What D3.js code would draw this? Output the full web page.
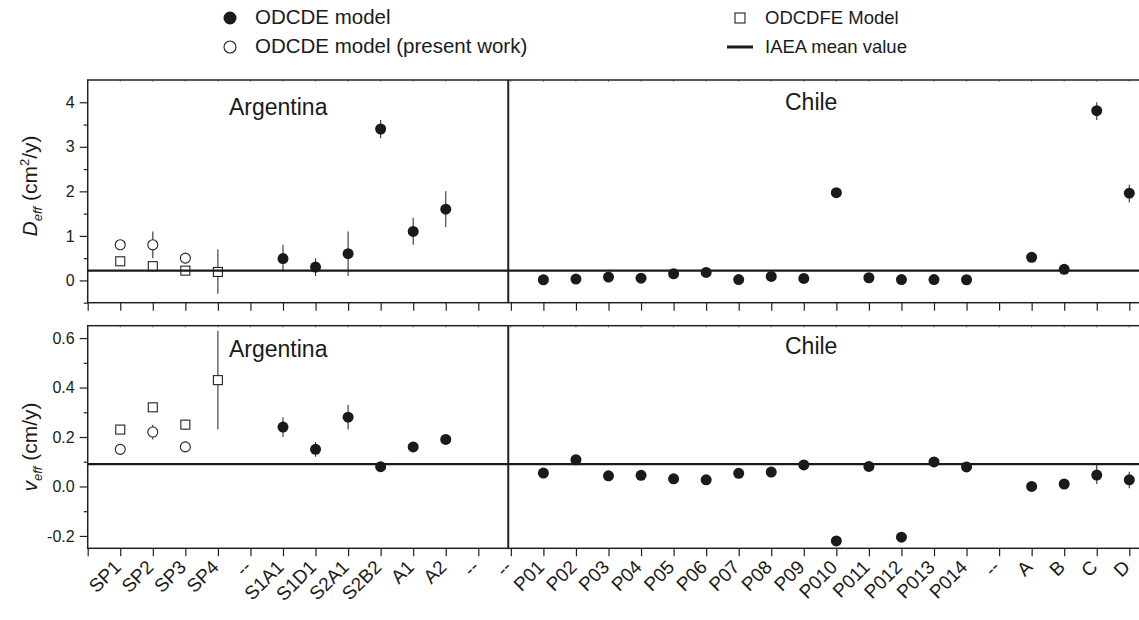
<!DOCTYPE html>
<html>
<head>
<meta charset="utf-8">
<script src="https://cdnjs.cloudflare.com/ajax/libs/d3/7.8.5/d3.min.js"></script>
<style>
body{margin:0;background:#fff;overflow:hidden;}
svg text{font-family:"Liberation Sans",Arial,sans-serif;fill:#1a1a1a;}
</style>
</head>
<body>
<div id="chart"></div>
<script>
// x categories (position 1..32)
var tickLabels = ["SP1","SP2","SP3","SP4","--","S1A1","S1D1","S2A1","S2B2","A1","A2","--","--",
    "P01","P02","P03","P04","P05","P06","P07","P08","P09","P010","P011","P012","P013","P014","--",
    "A","B","C","D"];

// IAEA mean value: top panel (Deff), bottom panel (veff)
var iaeaMean = [0.22, 0.09];

// [category, value, low, high]  (low/high = error bar ends, null if none)
var dOdcde = [
    ["S1A1",0.49,0.20,0.80],["S1D1",0.30,0.10,0.49],["S2A1",0.60,0.10,1.10],["S2B2",3.40,3.19,3.60],
    ["A1",1.10,0.80,1.41],["A2",1.60,1.20,2.00],
    ["P01",0.015,null,null],["P02",0.03,null,null],["P03",0.075,null,null],["P04",0.05,null,null],
    ["P05",0.15,null,null],["P06",0.18,null,null],["P07",0.02,null,null],["P08",0.09,null,null],
    ["P09",0.045,null,null],["P010",1.97,null,null],["P011",0.06,null,null],["P012",0.02,null,null],
    ["P013",0.02,null,null],["P014",0.015,null,null],
    ["A",0.52,null,null],["B",0.25,null,null],["C",3.81,3.60,4.00],["D",1.96,1.75,2.15]
];
var dPresent = [["SP1",0.80,null,null],["SP2",0.80,0.50,1.10],["SP3",0.50,null,null]];
var dOdcdfe = [["SP1",0.43,null,null],["SP2",0.32,null,null],["SP3",0.22,0.17,0.27],["SP4",0.19,-0.30,0.70]];

var vOdcde = [
    ["S1A1",0.24,0.20,0.28],["S1D1",0.15,0.12,0.18],["S2A1",0.28,0.23,0.33],["S2B2",0.08,null,null],
    ["A1",0.16,null,null],["A2",0.19,null,null],
    ["P01",0.054,null,null],["P02",0.108,null,null],["P03",0.043,null,null],["P04",0.045,null,null],
    ["P05",0.031,null,null],["P06",0.027,null,null],["P07",0.053,null,null],["P08",0.058,null,null],
    ["P09",0.087,null,null],["P010",-0.22,null,null],["P011",0.081,null,null],["P012",-0.205,null,null],
    ["P013",0.099,null,null],["P014",0.079,null,null],
    ["A",0.0,null,null],["B",0.01,null,null],["C",0.046,0.01,0.088],["D",0.027,-0.007,0.06]
];
var vPresent = [["SP1",0.15,0.135,0.165],["SP2",0.22,0.19,0.25],["SP3",0.16,null,null]];
var vOdcdfe = [["SP1",0.23,null,null],["SP2",0.32,null,null],["SP3",0.25,0.23,0.27],["SP4",0.43,0.23,0.63]];

var dTicks = [0,1,2,3,4], dMinor = [-0.5,0.5,1.5,2.5,3.5];
var vTicks = [-0.2,0,0.2,0.4,0.6], vMinor = [-0.1,0.1,0.3,0.5];

var legendItems = ["ODCDE model","ODCDE model (present work)","ODCDFE Model","IAEA mean value"];

var W = 1139, H = 620;
var svg = d3.select("#chart").append("svg").attr("width", W).attr("height", H);

var x = d3.scaleLinear().domain([0,33]).range([87.7, 87.7+33*32.55]);
var dividerPos = 12.92;

function pos(name){ return tickLabels.indexOf(name) + 1; }
function hyphen(f){ return function(v){ return f(v).replace("\u2212","-"); }; }

function drawPanel(y, ticks, minor, fmt, mean, filled, present, odcdfe, showLabels, regions){
    var g = svg.append("g");
    var y0 = y.range()[0], y1 = y.range()[1];

    // y axis major + minor
    g.append("g").attr("transform","translate("+x(0)+",0)")
        .call(d3.axisLeft(y).tickValues(ticks).tickSize(8).tickPadding(5).tickFormat(fmt))
        .call(function(a){ a.select(".domain").remove(); a.selectAll("line").attr("stroke","#222").attr("stroke-width",1.2);
            a.selectAll("text").attr("font-size",16).style("font-family","Liberation Sans, Arial, sans-serif").attr("fill","#1a1a1a"); });
    g.append("g").attr("transform","translate("+x(0)+",0)")
        .call(d3.axisLeft(y).tickValues(minor).tickSize(4).tickFormat(""))
        .call(function(a){ a.select(".domain").remove(); a.selectAll("line").attr("stroke","#222").attr("stroke-width",1.2); });

    // x axis
    var xa = g.append("g").attr("transform","translate(0,"+y0+")")
        .call(d3.axisBottom(x).tickValues(d3.range(0,34)).tickSize(8).tickFormat(""));
    xa.select(".domain").remove();
    xa.selectAll("line").attr("stroke","#222").attr("stroke-width",1.2);

    // faint ticks on top border
    g.selectAll(".topTick").data(d3.range(1,34)).enter().append("line")
        .attr("x1",function(d){return x(d);}).attr("x2",function(d){return x(d);})
        .attr("y1",y1).attr("y2",y1+2).attr("stroke","#999").attr("stroke-width",1);

    // frame
    g.append("rect").attr("x",x(0)).attr("y",y1).attr("width",x(33)-x(0)).attr("height",y0-y1)
        .attr("fill","none").attr("stroke","#222").attr("stroke-width",1.5);

    // divider Argentina / Chile
    g.append("line").attr("x1",x(dividerPos)).attr("x2",x(dividerPos)).attr("y1",y1).attr("y2",y0)
        .attr("stroke","#222").attr("stroke-width",2);

    // error bars
    var all = filled.concat(present, odcdfe).filter(function(d){return d[2] !== null;});
    g.selectAll(".err").data(all).enter().append("line")
        .attr("x1",function(d){return x(pos(d[0]));}).attr("x2",function(d){return x(pos(d[0]));})
        .attr("y1",function(d){return y(d[2]);}).attr("y2",function(d){return y(d[3]);})
        .attr("stroke","#333").attr("stroke-width",1.1);

    // markers
    g.selectAll(".sq").data(odcdfe).enter().append("rect")
        .attr("x",function(d){return x(pos(d[0]))-4.5;}).attr("y",function(d){return y(d[1])-4.5;})
        .attr("width",9).attr("height",9).attr("fill","#fff").attr("stroke","#222").attr("stroke-width",1.1);
    g.selectAll(".oc").data(present).enter().append("circle")
        .attr("cx",function(d){return x(pos(d[0]));}).attr("cy",function(d){return y(d[1]);})
        .attr("r",5).attr("fill","#fff").attr("stroke","#222").attr("stroke-width",1.1);

    // IAEA mean
    g.append("line").attr("x1",x(0)).attr("x2",x(33)).attr("y1",y(mean)).attr("y2",y(mean))
        .attr("stroke","#1a1a1a").attr("stroke-width",2.2);

    g.selectAll(".fc").data(filled).enter().append("circle")
        .attr("cx",function(d){return x(pos(d[0]));}).attr("cy",function(d){return y(d[1]);})
        .attr("r",5.5).attr("fill","#1a1a1a");

    // region labels
    g.append("text").attr("x",229).attr("y",regions[0]).attr("font-size",23).text("Argentina");
    g.append("text").attr("x",785).attr("y",regions[1]).attr("font-size",23).text("Chile");

    if(showLabels){
        g.selectAll(".xl").data(tickLabels).enter().append("text")
            .attr("transform",function(d,i){return "translate("+(x(i+1)+2)+","+(y0+20)+") rotate(-45)";})
            .attr("text-anchor","end").attr("font-size",19).text(function(d){return d;});
    }
}

var yD = d3.scaleLinear().domain([-0.5,4.5]).range([302.7,80]);
var yV = d3.scaleLinear().domain([-0.25,0.65]).range([548.3,325.7]);

drawPanel(yD, dTicks, dMinor, d3.format("d"), iaeaMean[0], dOdcde, dPresent, dOdcdfe, false, [115,110]);
drawPanel(yV, vTicks, vMinor, hyphen(d3.format(".1f")), iaeaMean[1], vOdcde, vPresent, vOdcdfe, true, [357,354]);

// y titles
var t1 = svg.append("text").attr("transform","translate(37,186) rotate(-90)").attr("text-anchor","middle").attr("font-size",21);
t1.append("tspan").attr("font-style","italic").text("D");
t1.append("tspan").attr("font-style","italic").attr("font-size",13).attr("dy",5).text("eff");
t1.append("tspan").attr("dy",-5).text(" (cm");
t1.append("tspan").attr("font-size",13).attr("dy",-8).text("2");
t1.append("tspan").attr("dy",8).text("/y)");

var t2 = svg.append("text").attr("transform","translate(37,447) rotate(-90)").attr("text-anchor","middle").attr("font-size",21);
t2.append("tspan").attr("font-style","italic").text("v");
t2.append("tspan").attr("font-style","italic").attr("font-size",13).attr("dy",5).text("eff");
t2.append("tspan").attr("dy",-5).text(" (cm/y)");

// legend
var lg = svg.append("g");
lg.append("circle").attr("cx",230).attr("cy",18).attr("r",6.5).attr("fill","#1a1a1a");
lg.append("circle").attr("cx",230).attr("cy",47).attr("r",6).attr("fill","#fff").attr("stroke","#222").attr("stroke-width",1.1);
lg.append("rect").attr("x",735).attr("y",13).attr("width",10).attr("height",10).attr("fill","#fff").attr("stroke","#222").attr("stroke-width",1.1);
lg.append("line").attr("x1",727).attr("x2",753).attr("y1",47).attr("y2",47).attr("stroke","#1a1a1a").attr("stroke-width",3);
var lx = [255,255,765,765], ly = [24,53,24,53], lsize = [20.5,20.5,18.5,18.5];
lg.selectAll(".lt").data(legendItems).enter().append("text")
    .attr("x",function(d,i){return lx[i];}).attr("y",function(d,i){return ly[i];})
    .attr("font-size",function(d,i){return lsize[i];}).text(function(d){return d;});
</script>
</body>
</html>
